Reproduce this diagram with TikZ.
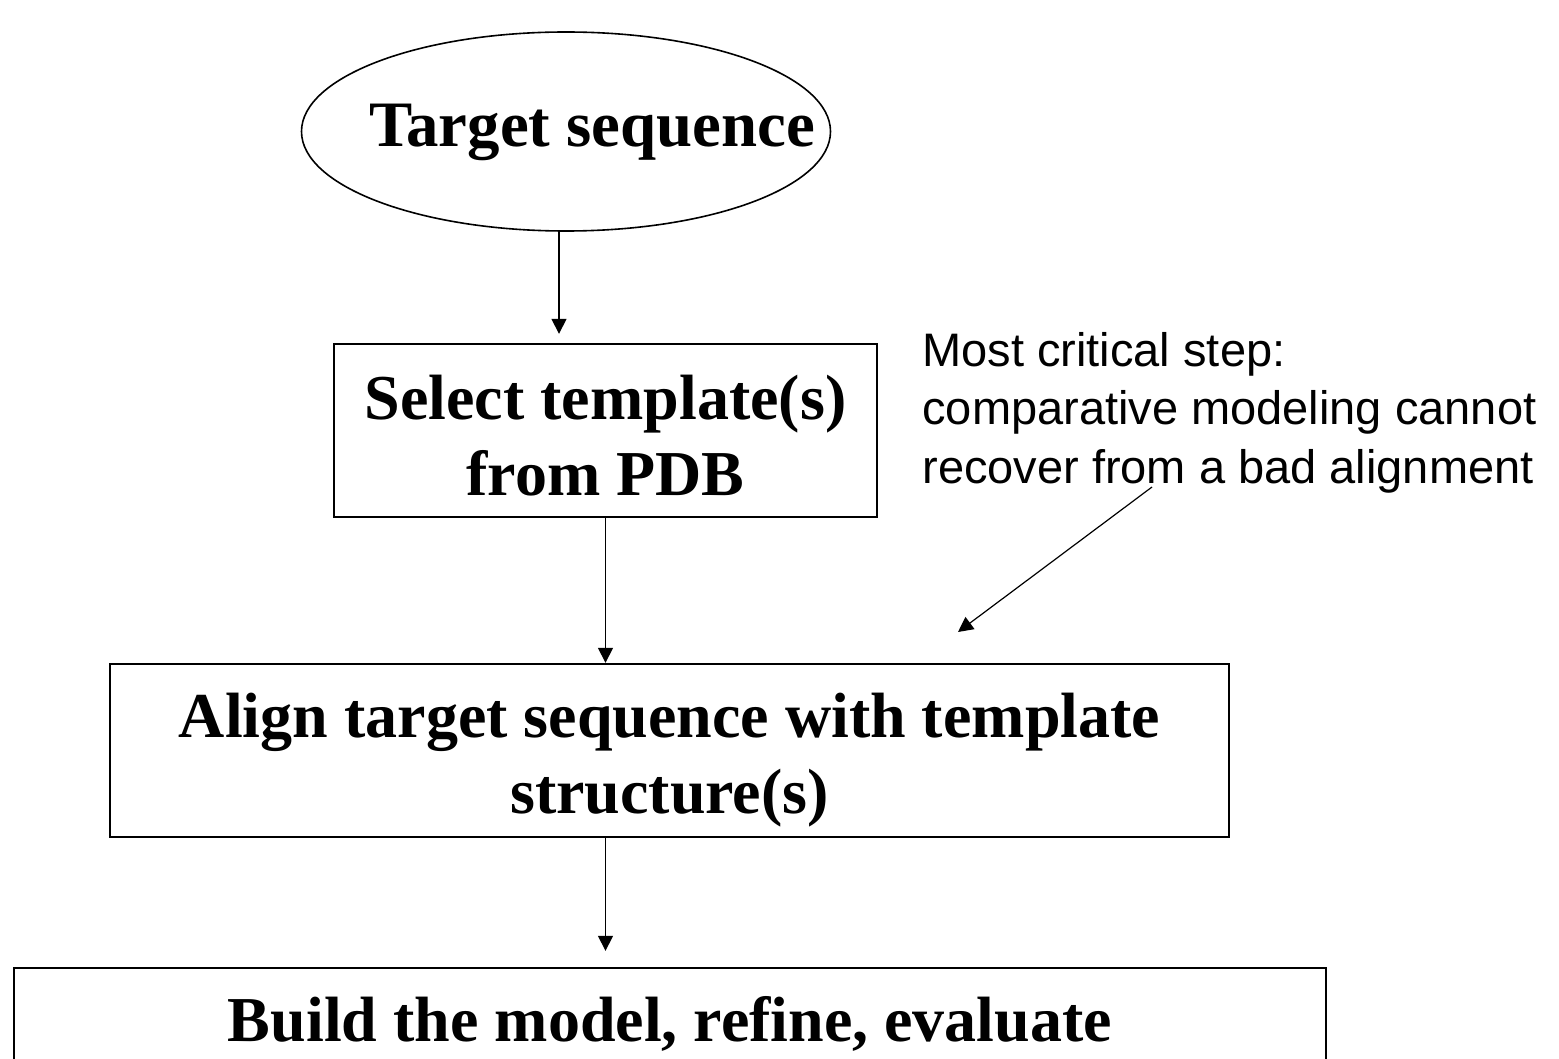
\documentclass[tikz,border=0pt]{standalone}
\usepackage{fontspec}
\setmainfont{Liberation Serif}
\newfontfamily\notefont{Liberation Sans}
\usetikzlibrary{shapes.geometric,arrows.meta}
\newcommand{\topstrut}[1]{\rule{0pt}{#1}}

\begin{document}
\begin{tikzpicture}[
    x=0.5pt, y=-0.5pt,
    stage/.style={draw, line width=1.2pt, inner sep=0pt, align=center, font=\fontsize{32}{38}\selectfont\bfseries},
    arr/.style={-{Triangle[width=7.5pt,length=7.5pt]}, line width=0.8pt},
    note/.style={align=left, inner sep=0pt, font=\notefont\fontsize{23.5}{29.25}\selectfont}
]
    \useasboundingbox (0,0) rectangle (1559,1059);

    \node[ellipse, draw, line width=0.8pt, minimum width=264.5pt, minimum height=99.5pt] (target) at (566,131.5) {};
    \node[font=\fontsize{32.4}{38}\selectfont\bfseries, anchor=base] (targettxt) at (592,147) {Target sequence};
    \node[stage, minimum width=271.5pt, minimum height=86.5pt] (select) at (605.5,430.5) {\topstrut{27.2pt}Select template(s)\\from PDB};
    \node[stage, minimum width=559.5pt, minimum height=86.5pt] (align) at (669.5,750.5) {\topstrut{31.6pt}Align target sequence with template\\structure(s)};
    \node[stage, minimum width=656pt, minimum height=51pt] (build) at (670,1019) {\topstrut{27.1pt}Build the model, refine, evaluate};

    \node[note, anchor=north west] (note) at (922,332) {Most critical step:\\comparative modeling cannot\\recover from a bad alignment};
    \coordinate (nstart) at (1152,487);
    \coordinate (nend) at (958,632);

    \draw[arr, shorten >=4.5pt] ([xshift=-3.5pt]target.south) -- ([xshift=-3.5pt]target.south |- select.north);
    \draw[arr] (select.south) -- (select.south |- align.north);
    \draw[arr, shorten >=8pt] (select.south |- align.south) -- (select.south |- build.north);
    \draw[arr, line width=0.6pt] (nstart) -- (nend);
\end{tikzpicture}
\end{document}
